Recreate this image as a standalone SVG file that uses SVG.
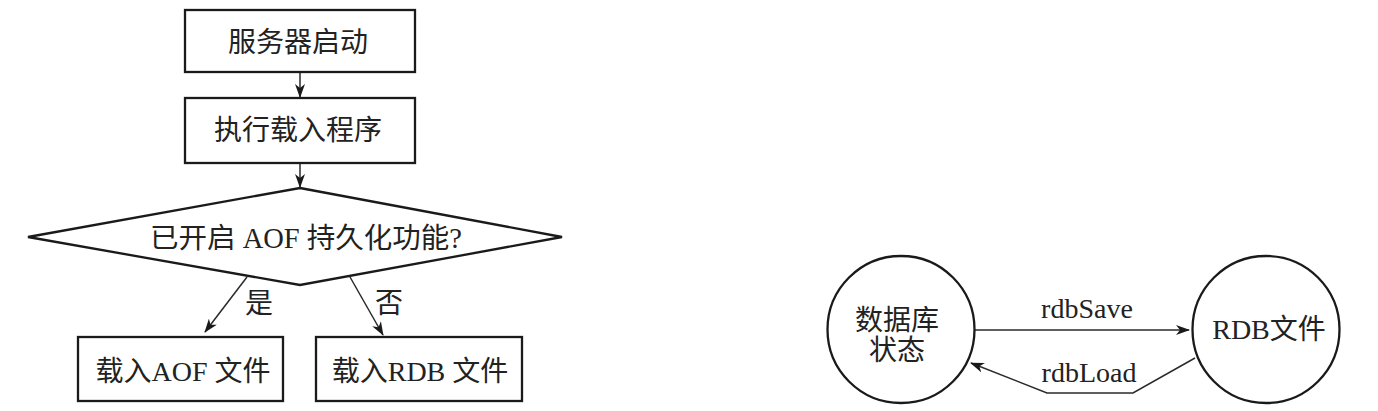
<svg xmlns="http://www.w3.org/2000/svg" width="1378" height="411" viewBox="0 0 1378 411">
<defs>
<style>
.box{fill:#fff;stroke:#1a1a1a;stroke-width:2.3}
.ln{fill:none;stroke:#2a2a2a;stroke-width:1.5}
.t{font-family:"Liberation Serif","Noto Sans CJK SC",serif;font-size:28px;fill:#222;text-anchor:middle;dominant-baseline:central}
.big{font-size:28.5px}
</style>
<marker id="ah" viewBox="0 0 14 10" refX="13" refY="5" markerWidth="14" markerHeight="10" markerUnits="userSpaceOnUse" orient="auto">
<path d="M0,0 L14,5 L0,10 L4,5 Z" fill="#1a1a1a"/>
</marker>
</defs>
<rect width="1378" height="411" fill="#fff"/>
<g id="connectors">
<line class="ln" x1="300" y1="72" x2="300" y2="97" marker-end="url(#ah)"/>
<line class="ln" x1="300" y1="163" x2="300" y2="187" marker-end="url(#ah)"/>
<line class="ln" x1="247" y1="277" x2="205" y2="332" marker-end="url(#ah)"/>
<line class="ln" x1="350" y1="277" x2="383" y2="335" marker-end="url(#ah)"/>
<text class="t" x="259" y="303">是</text>
<text class="t" x="389" y="303">否</text>
<line class="ln" x1="975" y1="330" x2="1189" y2="330" marker-end="url(#ah)"/>
<polyline class="ln" points="1195,358 1133,393 1047,393 971,363" marker-end="url(#ah)"/>
<text class="t" x="1087" y="308">rdbSave</text>
<text class="t" x="1089" y="372">rdbLoad</text>
</g>
<g id="start">
<rect class="box" x="185" y="10" width="230" height="62"/>
<text class="t" x="298" y="42">服务器启动</text>
</g>
<g id="load">
<rect class="box" x="185" y="98" width="230" height="65"/>
<text class="t" x="298" y="130">执行载入程序</text>
</g>
<g id="decision">
<polygon class="box" points="300,188 562,237 300,285 28,237"/>
<text class="t big" x="306" y="238">已开启 AOF 持久化功能?</text>
</g>
<g id="aof">
<rect class="box" x="78" y="337" width="205" height="64"/>
<text class="t" x="183" y="371">载入AOF 文件</text>
</g>
<g id="rdb">
<rect class="box" x="316" y="337" width="206" height="64"/>
<text class="t" x="420" y="371">载入RDB 文件</text>
</g>
<g id="dbstate">
<circle class="box" cx="901" cy="329.5" r="73.5"/>
<text class="t" x="897" y="320">数据库</text>
<text class="t" x="897" y="350">状态</text>
</g>
<g id="rdbfile">
<circle class="box" cx="1266" cy="329.5" r="73.5"/>
<text class="t" x="1269" y="329">RDB文件</text>
</g>
</svg>
